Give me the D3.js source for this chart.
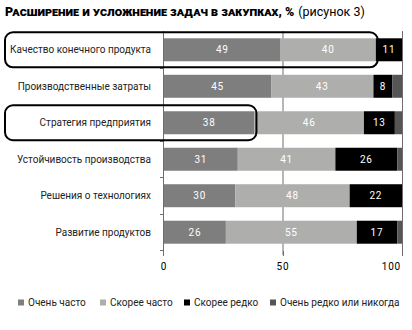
<!DOCTYPE html>
<html><head><meta charset="utf-8">
<script src="https://cdn.jsdelivr.net/npm/d3@7"></script>
<style>
html,body{margin:0;padding:0;background:#fff;}
svg{display:block;font-family:Roboto, "DejaVu Sans", sans-serif;}
</style></head>
<body>
<svg id="chart" width="412" height="330"></svg>
<script>
const categories = ["Качество конечного продукта","Производственные затраты","Стратегия предприятия","Устойчивость производства","Решения о технологиях","Развитие продуктов"];
const seriesNames = ["Очень часто","Скорее часто","Скорее редко","Очень редко или никогда"];
const veryOften   = [49,45,38,31,30,26];
const ratherOften = [40,43,46,41,48,55];
const ratherRarely= [11,8,13,26,22,17];
const veryRarely  = [0,4,3,2,0,2];
const xTicks = [0,50,100];
const highlighted = ["Качество конечного продукта","Стратегия предприятия"];
const colors = ["#7e7e7e","#aeafac","#000000","#555555"];

const svg = d3.select("#chart");
const x = d3.scaleLinear().domain([0,100]).range([164,402]);
const y = d3.scaleBand().domain(categories).range([31,251]).paddingInner(0.37).paddingOuter(0.2);

const rows = categories.map((c,i)=>({cat:c, vals:[veryOften[i],ratherOften[i],ratherRarely[i],veryRarely[i]]}));
const stackData = categories.map((c,i)=>{const o={cat:c}; seriesNames.forEach((s,k)=>o[s]=rows[i].vals[k]); return o;});
const stacked = d3.stack().keys(seriesNames)(stackData);

// title
const title = svg.append("text").attr("x",5).attr("y",16).attr("font-size",12.5);
title.append("tspan").attr("font-weight","900").style("font-variant","small-caps").text("Расширение и усложнение задач в закупках, %");
title.append("tspan").attr("font-weight","400").attr("dx",4).text("(рисунок 3)");

// gridline at 50 (behind bars)
svg.append("line").attr("x1",x(50)).attr("x2",x(50)).attr("y1",31).attr("y2",255).attr("stroke","#6e6e6e").attr("stroke-width",1);
svg.append("line").attr("x1",x(100)+0.5).attr("x2",x(100)+0.5).attr("y1",31).attr("y2",255).attr("stroke","#6e6e6e").attr("stroke-width",1);

// bars
const layers = svg.append("g").selectAll("g").data(stacked).join("g").attr("fill",(d,i)=>colors[i]);
layers.selectAll("rect").data(d=>d).join("rect")
  .attr("x",d=>x(d[0])).attr("width",d=>x(d[1])-x(d[0]))
  .attr("y",d=>y(d.data.cat)).attr("height",y.bandwidth());

// value labels
stacked.slice(0,3).forEach((layer)=>{
  svg.append("g").selectAll("text").data(layer.filter(d=>d[1]-d[0]>0)).join("text")
    .attr("x",d=>(x(d[0])+x(d[1]))/2).attr("y",d=>y(d.data.cat)+y.bandwidth()/2+3.5)
    .attr("text-anchor","middle").attr("fill","#fff").attr("font-size",10).attr("letter-spacing",0.8)
    .text(d=>d[1]-d[0]);
});

// y axis line and ticks
svg.append("line").attr("x1",x(0)-0.5).attr("x2",x(0)-0.5).attr("y1",31).attr("y2",255).attr("stroke","#6e6e6e");
const step = y.step();
const bounds = d3.range(categories.length).map(i=>y(categories[i]) + y.bandwidth() + (step - y.bandwidth())/2);
svg.append("g").selectAll("line").data(bounds).join("line")
  .attr("x1",x(0)-4).attr("x2",x(0)).attr("y1",d=>Math.round(d)+0.5).attr("y2",d=>Math.round(d)+0.5).attr("stroke","#6e6e6e");

// category labels
svg.append("g").selectAll("text").data(categories).join("text")
  .attr("x",151).attr("y",d=>y(d)+y.bandwidth()/2+3.5).attr("text-anchor","end")
  .attr("font-size",10).attr("fill","#222").attr("letter-spacing",0).text(d=>d);

// x axis ticks
const xa = svg.append("g");
xa.selectAll("line").data(xTicks).join("line")
  .attr("x1",d=>x(d)+(d===0?-0.5:0.5)).attr("x2",d=>x(d)+(d===0?-0.5:0.5)).attr("y1",251).attr("y2",256).attr("stroke","#6e6e6e");
xa.selectAll("text").data(xTicks).join("text")
  .attr("x",d=>d===100?x(d)-1:x(d)).attr("y",270).attr("text-anchor",d=>d===100?"end":"middle")
  .attr("font-size",10).attr("fill","#000").attr("letter-spacing",0.8).text(d=>d);

// highlight boxes
highlighted.forEach((c,i)=>{
  const right = i===0 ? x(89)+2 : x(38)+2;
  svg.append("rect").attr("x",5).attr("y",y(c)-6).attr("width",right-5).attr("height",y.bandwidth()+12)
    .attr("rx",8).attr("fill","none").attr("stroke","#000").attr("stroke-width",2);
});

// legend
const legX = [18,100,184,270];
const leg = svg.append("g").selectAll("g").data(seriesNames).join("g")
  .attr("transform",(d,i)=>`translate(${legX[i]},306)`);
leg.append("rect").attr("x",0).attr("y",-6.5).attr("width",6).attr("height",6).attr("fill",(d,i)=>colors[i]);
leg.append("text").attr("x",10).attr("y",0).attr("font-size",10).attr("fill","#222").text(d=>d);
</script>
</body></html>
